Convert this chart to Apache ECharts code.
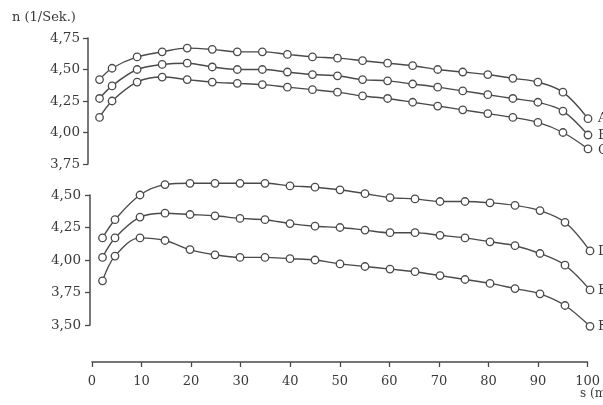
<!DOCTYPE html>
<html>
<head>
<meta charset="utf-8">
<script src="https://cdn.jsdelivr.net/npm/echarts@6/dist/echarts.min.js"></script>
<style>html,body{margin:0;padding:0;background:#fff;}#c{width:603px;height:405px;}</style>
</head>
<body>
<div id="c"></div>
<script>
// distance s (m)
const s = [2.5,5,10,15,20,25,30,35,40,45,50,55,60,65,70,75,80,85,90,95,100];
// upper group, n (1/Sek.)
const serA = [4.42,4.51,4.60,4.64,4.67,4.66,4.64,4.64,4.62,4.60,4.59,4.57,4.55,4.53,4.50,4.48,4.46,4.43,4.40,4.32,4.11];
const serB = [4.27,4.37,4.50,4.54,4.55,4.52,4.50,4.50,4.48,4.46,4.45,4.42,4.41,4.385,4.36,4.33,4.30,4.27,4.24,4.17,3.98];
const serC = [4.12,4.25,4.40,4.44,4.42,4.40,4.39,4.38,4.36,4.34,4.32,4.29,4.27,4.24,4.21,4.18,4.15,4.12,4.08,4.00,3.87];
// lower group
const serD = [4.17,4.31,4.50,4.58,4.59,4.59,4.59,4.59,4.57,4.56,4.54,4.51,4.48,4.47,4.45,4.45,4.44,4.42,4.38,4.29,4.07];
const serE = [4.02,4.17,4.33,4.36,4.35,4.34,4.32,4.31,4.28,4.26,4.25,4.23,4.21,4.21,4.19,4.17,4.14,4.11,4.05,3.96,3.77];
const serF = [3.84,4.03,4.17,4.15,4.08,4.04,4.02,4.02,4.01,4.00,3.97,3.95,3.93,3.91,3.88,3.85,3.82,3.78,3.74,3.65,3.49];
const upperLabels = ['A','B','C'];
const lowerLabels = ['D','E','F'];
// tick labels
const topTickLabels = ['3,75','4,00','4,25','4,50','4,75'];
const bottomTickLabels = ['3,50','3,75','4,00','4,25','4,50'];
const xTickLabels = ['0','10','20','30','40','50','60','70','80','90','100'];
const yTitle = 'n (1/Sek.)';
const xTitle = 's (m)';

const ink = '#4a4a4a';
const txt = '#3a3a3a';
const font = 'DejaVu Serif';

function pairs(arr){ return s.map((x,i)=>[x,arr[i]]); }
function mkSeries(data, gi){
  return {
    type:'line', xAxisIndex:gi, yAxisIndex:gi, data:pairs(data),
    smooth:0.35, clip:false, symbol:'circle', symbolSize:7.5,
    lineStyle:{color:ink,width:1.4},
    itemStyle:{color:'#fff',borderColor:ink,borderWidth:1.3},
    emphasis:{disabled:true}, silent:true, z:3
  };
}
function yAx(gi,min,max,labels,offset){
  return {
    gridIndex:gi, type:'value', min:min, max:max, interval:0.25, offset:offset,
    axisLine:{show:true,lineStyle:{color:ink,width:1.5}},
    axisTick:{show:true,length:5,inside:false,lineStyle:{color:ink,width:1.3}},
    splitLine:{show:false},
    axisLabel:{color:txt,fontFamily:font,fontSize:13.5,margin:8,
      formatter:(v,i)=>labels[i]}
  };
}

const chart = echarts.init(document.getElementById('c'),null,{renderer:'canvas'});
chart.setOption({
  animation:false,
  backgroundColor:'#fff',
  grid:[
    {left:87, top:38, width:501, height:126},
    {left:90, top:195, width:500, height:130},
    {left:92, top:300, width:500, height:62}
  ],
  xAxis:[
    {gridIndex:0,type:'value',min:0,max:100,show:false},
    {gridIndex:1,type:'value',min:0,max:100,show:false},
    {gridIndex:2,type:'value',min:0,max:100,interval:10,position:'bottom',
      axisLine:{show:true,lineStyle:{color:ink,width:1.5}},
      axisTick:{show:true,length:5,inside:false,lineStyle:{color:ink,width:1.3}},
      splitLine:{show:false},
      axisLabel:{color:txt,fontFamily:font,fontSize:13,margin:13,
        formatter:(v,i)=>xTickLabels[i]}
    }
  ],
  yAxis:[
    yAx(0,3.75,4.75,topTickLabels,-1),
    yAx(1,3.5,4.5,bottomTickLabels,1),
    {gridIndex:2,type:'value',show:false,min:0,max:1}
  ],
  series:[
    mkSeries(serA,0), mkSeries(serB,0), mkSeries(serC,0),
    mkSeries(serD,1), mkSeries(serE,1), mkSeries(serF,1)
  ],
  graphic:[
    {type:'text',left:12,top:11,style:{text:yTitle,fill:txt,font:'13px "DejaVu Serif"'}},
    {type:'text',left:580,top:388,style:{text:xTitle,fill:txt,font:'12px "DejaVu Serif"'}},
    {type:'text',left:598,top:112,style:{text:upperLabels[0],fill:txt,font:'13px "DejaVu Serif"'}},
    {type:'text',left:598,top:129,style:{text:upperLabels[1],fill:txt,font:'13px "DejaVu Serif"'}},
    {type:'text',left:598,top:144,style:{text:upperLabels[2],fill:txt,font:'13px "DejaVu Serif"'}},
    {type:'text',left:598,top:245,style:{text:lowerLabels[0],fill:txt,font:'13px "DejaVu Serif"'}},
    {type:'text',left:598,top:284,style:{text:lowerLabels[1],fill:txt,font:'13px "DejaVu Serif"'}},
    {type:'text',left:598,top:320,style:{text:lowerLabels[2],fill:txt,font:'13px "DejaVu Serif"'}}
  ]
});
</script>
</body>
</html>
